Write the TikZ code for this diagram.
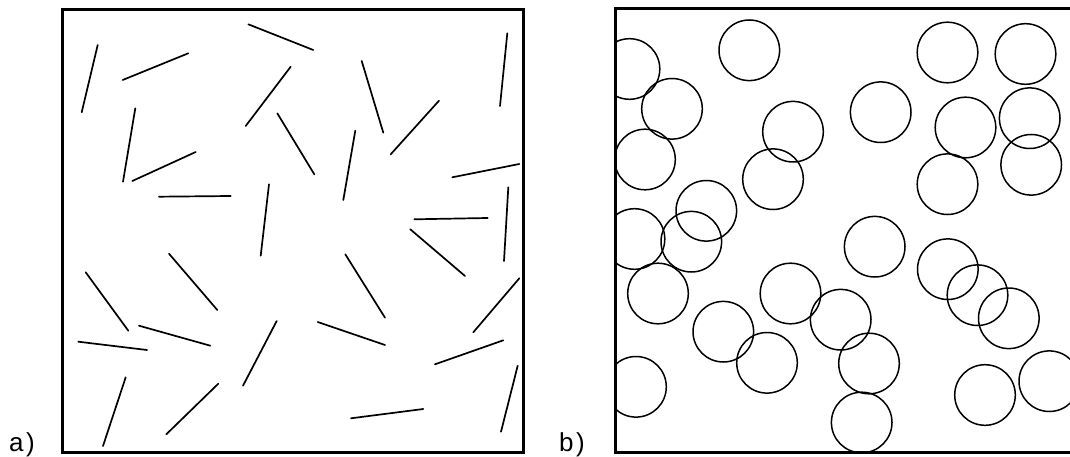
\documentclass[tikz,border=0pt]{standalone}
\usepackage{fontspec}
\setmainfont{Liberation Sans}
\begin{document}
\begin{tikzpicture}[x=1pt,y=-1pt,
  frame/.style={line width=3pt},
  stick/.style={line width=1.7pt,line cap=round},
  ring/.style={line width=1.5pt},
  tag/.style={font=\fontsize{26}{28}\selectfont,inner sep=0pt,anchor=base west}]
\useasboundingbox (0,0) rectangle (1070,457);

% panel a: randomly oriented short rods
\draw[frame] (62.5,10) rectangle (523,452);
\foreach \ax/\ay/\bx/\by in {
  97.7/45/81.7/112.3, 122.7/80/188.3/53.3, 248.3/24.3/313.3/50,
  290.7/66.7/245.7/126, 135.3/108.3/123/181.7, 132.3/181/195.7/152,
  159/196.7/230.7/196, 269/184.3/260.7/255.7, 277.3/113.3/314.3/174.3,
  361.7/61/383.3/132.7, 439/100.7/390.7/154.3, 355.3/130.7/343.3/200,
  507.3/33.3/500/106, 452.3/177.3/519.3/164, 508.3/187.3/504/261,
  414.3/219.3/487.7/218, 410.3/229.3/465/276, 345.3/254.3/385/317.7,
  519.3/278.3/473.3/332.3, 317.7/322/385/345, 503.3/340.3/435/364.3,
  517.7/365.7/501/431.7, 351/418.3/423.3/409, 169/253.7/217.3/310,
  85.7/272.3/128.3/330.7, 139/325.7/210.3/345.7, 78.3/341.7/147/350,
  276.7/321/243/385.7, 125.7/377.3/103/446, 218.3/383.7/166.3/434.3}
  \draw[stick] (\ax,\ay) -- (\bx,\by);

% panel b: randomly placed discs (open on the right), cut off by the frame
\begin{scope}
  \clip (615.5,9) rectangle (1080,452);
  \foreach \cx/\cy in {
    629.5/69, 749.3/50.3, 947.5/52.5, 1025.5/54, 672/108.8, 793/131.7,
    880.7/112.2, 965.5/127.5, 1029.7/118.2, 645/159.5, 773/179.2,
    947.5/184.2, 1031.2/164.8, 706.3/210.8, 634.5/239, 691.3/241.7,
    874.7/246.7, 658/293.5, 790.5/293.5, 840.7/319.7, 947.8/269.2,
    977.5/295.2, 1008.8/318.3, 723.3/331.7, 767/362.8, 869/363.5,
    636/386.8, 985/395, 1049.3/381.2, 861.7/422.5}
    \draw[ring] (\cx,\cy) circle[radius=30.3];
\end{scope}
\draw[frame] (1080,9) -- (615.5,9) -- (615.5,452) -- (1080,452);

% panel labels
\node[tag] (la) at (9,451) {a\kern2.5pt)};
\node[tag] (lb) at (559,451) {b\kern2.5pt)};
\end{tikzpicture}
\end{document}
